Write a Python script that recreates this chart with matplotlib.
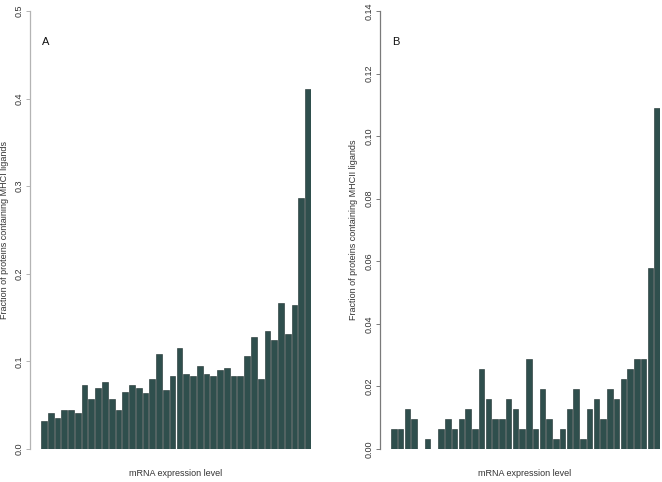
import numpy as np
import matplotlib.pyplot as plt

plt.rcParams['font.family'] = ['Liberation Sans', 'DejaVu Sans']

# fraction of proteins with MHC-I ligands, 40 mRNA expression bins
mhc1 = [0.032, 0.041, 0.035, 0.044, 0.044, 0.041, 0.073, 0.057, 0.070, 0.076,
        0.057, 0.044, 0.065, 0.073, 0.070, 0.064, 0.080, 0.109, 0.067, 0.083,
        0.115, 0.086, 0.083, 0.095, 0.086, 0.083, 0.090, 0.093, 0.083, 0.083,
        0.106, 0.128, 0.080, 0.135, 0.125, 0.167, 0.131, 0.164, 0.286, 0.411]

# same for MHC-II ligands
mhc2 = [0.0064, 0.0064, 0.0128, 0.0096, 0.0, 0.0032, 0.0, 0.0064, 0.0096, 0.0064,
        0.0096, 0.0128, 0.0064, 0.0256, 0.016, 0.0096, 0.0096, 0.016, 0.0128, 0.0064,
        0.0288, 0.0064, 0.0192, 0.0096, 0.0032, 0.0064, 0.0128, 0.0192, 0.0032, 0.0128,
        0.016, 0.0096, 0.0192, 0.016, 0.0224, 0.0256, 0.0288, 0.0288, 0.0577, 0.109]

yticks_a = [0.0, 0.1, 0.2, 0.3, 0.4, 0.5]
yticks_b = [0.00, 0.02, 0.04, 0.06, 0.08, 0.10, 0.12, 0.14]

W, H = 662, 482
fig = plt.figure(figsize=(W / 100, H / 100), dpi=100)

bar_col = '#2f4f4d'
bw = 0.85


def panel(left_px, right_px, vals, ticks, fmt, ylab, letter, spine_col, lab_off):
    ax = fig.add_axes([left_px / W, (H - 449) / H, (right_px - left_px) / W, 438 / H])
    x = np.arange(len(vals))
    ax.bar(x, vals, width=bw, color=bar_col, edgecolor='#1c2e2d', linewidth=0.4)
    span = len(vals) - 1 + bw
    ppu = (right_px - left_px - 11) / span
    ax.set_xlim(-bw / 2 - 11 / ppu, len(vals) - 1 + bw / 2)
    ax.set_ylim(0, ticks[-1])
    for s in ['top', 'right', 'bottom']:
        ax.spines[s].set_visible(False)
    ax.spines['left'].set_color(spine_col)
    ax.spines['left'].set_linewidth(0.9)
    ax.set_xticks([])
    ax.set_yticks(ticks)
    ax.set_yticklabels([fmt % t for t in ticks], rotation=90, va='center', fontsize=6.5, color='#333333')
    ax.tick_params(axis='y', length=3, width=0.7, color=spine_col, pad=1.5)
    ax.set_ylabel(ylab, fontsize=6.5, color='#333333')
    # label anchor is its right edge after rotation
    ax.yaxis.set_label_coords(-lab_off / (right_px - left_px), 0.5)
    ax.text(16 / (right_px - left_px), (449 - 42) / 438, letter, transform=ax.transAxes,
            fontsize=8, ha='center', va='center', color='#111111')
    return ax


panel(30, 311, mhc1, yticks_a, '%.1f', 'Fraction of proteins containing MHCI ligands', 'A', '#b4b4b4', 20.5)
panel(380, 660, mhc2, yticks_b, '%.2f', 'Fraction of proteins containing MHCII ligands', 'B', '#7a7a7a', 22)

fig.text(176 / W, (H - 473) / H, 'mRNA expression level', ha='center', va='center', fontsize=6.5, color='#333333')
fig.text(525 / W, (H - 473) / H, 'mRNA expression level', ha='center', va='center', fontsize=6.5, color='#333333')

fig.savefig('out.png', dpi=100)
